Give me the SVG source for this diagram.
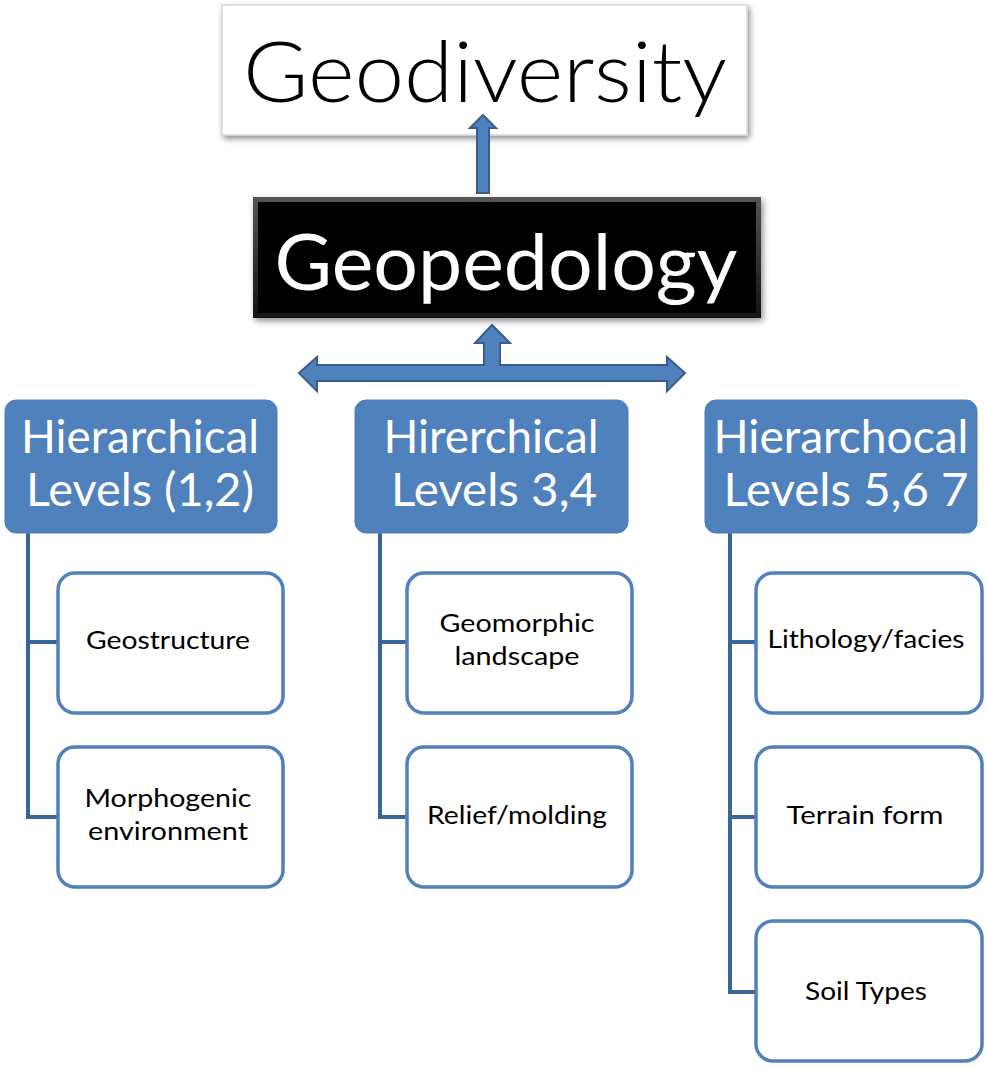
<svg xmlns="http://www.w3.org/2000/svg" width="986" height="1068" viewBox="0 0 986 1068">
<defs>
<filter id="shadow" x="-10%" y="-10%" width="130%" height="140%">
<feGaussianBlur in="SourceAlpha" stdDeviation="3"/>
<feOffset dx="2" dy="3" result="b"/>
<feComponentTransfer><feFuncA type="linear" slope="0.45"/></feComponentTransfer>
<feMerge><feMergeNode/><feMergeNode in="SourceGraphic"/></feMerge>
</filter>
<linearGradient id="bevelTop" x1="0" y1="0" x2="0" y2="1">
<stop offset="0" stop-color="#555"/>
<stop offset="1" stop-color="#111"/>
</linearGradient>
</defs>
<style>
.lvl{fill:#4F81BD;stroke:#4A7CB6;stroke-width:1}
.lvlt{font-family:Lato,"Open Sans","Liberation Sans",sans-serif;font-size:46px;fill:#fff;text-anchor:middle}
.child{fill:#fff;stroke:#4F81BD;stroke-width:3.5}
.ct{font-family:Lato,"Open Sans","Liberation Sans",sans-serif;font-size:25px;fill:#000;text-anchor:middle}
.conn{fill:none;stroke:#3A6598;stroke-width:4}
.arrow{fill:#4F81BD;stroke:#385D8A;stroke-width:2;stroke-linejoin:miter}
</style>
<rect width="986" height="1068" fill="#fff"/>

<g id="geodiversity">
<rect x="222" y="5" width="525" height="130" fill="#fff" stroke="#d6d6d6" stroke-width="1.5" filter="url(#shadow)"/>
<text x="485" y="102" font-family="Lato,'Open Sans','Liberation Sans',sans-serif" font-weight="300" font-size="84" fill="#000" text-anchor="middle" textLength="484" lengthAdjust="spacingAndGlyphs">Geodiversity</text>
</g>

<g id="geopedology">
<rect x="253" y="197" width="508" height="121" fill="url(#bevelTop)" filter="url(#shadow)"/>
<rect x="258" y="202" width="498" height="111" fill="#000"/>
<text x="506" y="290" font-family="Lato,'Open Sans','Liberation Sans',sans-serif" font-size="78" fill="#fff" text-anchor="middle" textLength="463" lengthAdjust="spacingAndGlyphs">Geopedology</text>
</g>

<g id="connectors">
<path class="arrow" d="M483,115 L496,128 L489,128 L489,193 L477,193 L477,128 L470,128 Z"/>
<path class="arrow" d="M299,373 L317,357 L317,365 L484,365 L484,343 L475,343 L492,325 L510,343 L500,343 L500,365 L667,365 L667,357 L685,373 L667,391 L667,381 L317,381 L317,391 Z"/>
<path class="conn" d="M28,533 V817 H58 M28,642 H58"/>
<path class="conn" d="M380,533 V817 H407 M380,642 H407"/>
<path class="conn" d="M730,533 V992 H756 M730,642 H756 M730,817 H756"/>
</g>

<g id="level12">
<rect class="lvl" x="5" y="400" width="272" height="133" rx="11"/>
<text class="lvlt" x="140" y="453" textLength="238" lengthAdjust="spacingAndGlyphs">Hierarchical</text>
<text class="lvlt" x="140" y="506" textLength="228" lengthAdjust="spacingAndGlyphs">Levels (1,2)</text>
</g>
<g id="level34">
<rect class="lvl" x="355" y="400" width="273" height="133" rx="11"/>
<text class="lvlt" x="491" y="453" textLength="215" lengthAdjust="spacingAndGlyphs">Hirerchical</text>
<text class="lvlt" x="494" y="506" textLength="206" lengthAdjust="spacingAndGlyphs">Levels 3,4</text>
</g>
<g id="level567">
<rect class="lvl" x="705" y="400" width="272" height="133" rx="11"/>
<text class="lvlt" x="841" y="453" textLength="255" lengthAdjust="spacingAndGlyphs">Hierarchocal</text>
<text class="lvlt" x="846" y="506" textLength="245" lengthAdjust="spacingAndGlyphs">Levels 5,6 7</text>
</g>

<g id="geostructure">
<rect class="child" x="58" y="573" width="225" height="140" rx="17"/>
<text class="ct" x="168" y="649" textLength="164" lengthAdjust="spacingAndGlyphs">Geostructure</text>
</g>
<g id="morphogenic">
<rect class="child" x="58" y="747" width="225" height="140" rx="17"/>
<text class="ct" x="168" y="807" textLength="167" lengthAdjust="spacingAndGlyphs">Morphogenic</text>
<text class="ct" x="168" y="840" textLength="160" lengthAdjust="spacingAndGlyphs">environment</text>
</g>
<g id="geomorphic">
<rect class="child" x="407" y="573" width="225" height="140" rx="17"/>
<text class="ct" x="517" y="632" textLength="155" lengthAdjust="spacingAndGlyphs">Geomorphic</text>
<text class="ct" x="517" y="665" textLength="125" lengthAdjust="spacingAndGlyphs">landscape</text>
</g>
<g id="relief">
<rect class="child" x="407" y="747" width="225" height="140" rx="17"/>
<text class="ct" x="517" y="824" textLength="180" lengthAdjust="spacingAndGlyphs">Relief/molding</text>
</g>
<g id="lithology">
<rect class="child" x="756" y="573" width="226" height="140" rx="17"/>
<text class="ct" x="866" y="648" textLength="197" lengthAdjust="spacingAndGlyphs">Lithology/facies</text>
</g>
<g id="terrain">
<rect class="child" x="756" y="747" width="226" height="140" rx="17"/>
<text class="ct" x="865" y="824" textLength="157" lengthAdjust="spacingAndGlyphs">Terrain form</text>
</g>
<g id="soil">
<rect class="child" x="756" y="921" width="226" height="140" rx="17"/>
<text class="ct" x="866" y="1000" textLength="122" lengthAdjust="spacingAndGlyphs">Soil Types</text>
</g>
</svg>
